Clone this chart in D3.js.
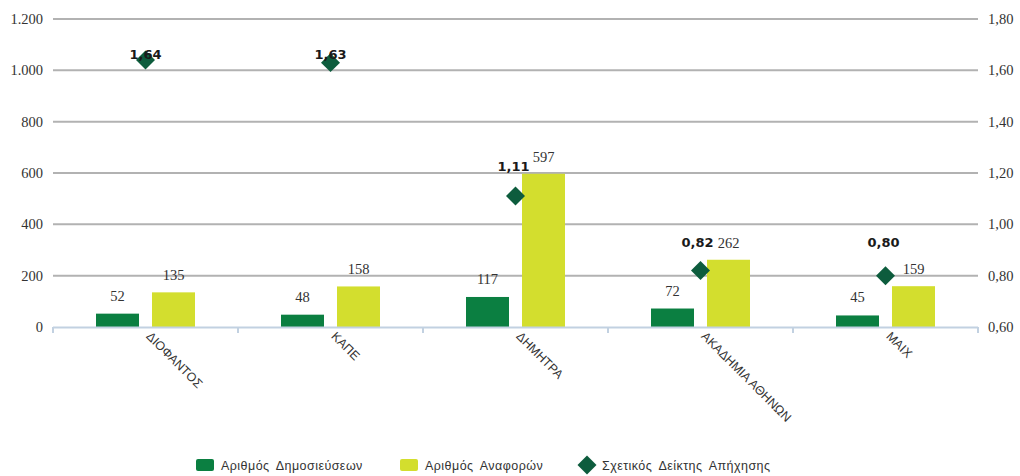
<!DOCTYPE html>
<html><head><meta charset="utf-8">
<script src="https://cdn.jsdelivr.net/npm/d3@7"></script>
<style>
body{margin:0;background:#fff;}
svg{display:block;}
</style></head>
<body><svg id="chart" width="1020" height="476"></svg>
<script>
const categories = ["ΔΙΟΦΑΝΤΟΣ","ΚΑΠΕ","ΔΗΜΗΤΡΑ","ΑΚΑΔΗΜΙΑ ΑΘΗΝΩΝ","ΜΑΙΧ"];
const publications = [52,48,117,72,45];
const citations = [135,158,597,262,159];
const relIndex = [1.64,1.63,1.11,0.82,0.80];
const leftTicks = [0,200,400,600,800,1000,1200];
const rightTicks = [0.6,0.8,1.0,1.2,1.4,1.6,1.8];
const seriesNames = ["Αριθμός Δημοσιεύσεων","Αριθμός Αναφορών","Σχετικός Δείκτης Απήχησης"];

// label placement tweaks for the index labels (layout only)
const idxLabelDy = [-1,-4,-25,-24,-29];
const idxLabelDx = [0,0,-2,-3,-2];

const colors = {pub:"#0b7f41", cit:"#d3de2e", idx:"#0d5c3d"};
const svg = d3.select("#chart");
const m = {l:53, r:978, t:19, b:327};

const x = d3.scaleBand().domain(categories).range([m.l,m.r]).paddingInner(0).paddingOuter(0);
const yL = d3.scaleLinear().domain([0,1200]).range([m.b,m.t]);
const yR = d3.scaleLinear().domain([0.6,1.8]).range([m.b,m.t]);

const fmtL = d3.formatLocale({decimal:",",thousands:".",grouping:[3],currency:["","€"]});
const fL = fmtL.format(",d");
const fR = fmtL.format(".2f");

// gridlines
svg.append("g").selectAll("line").data(leftTicks.slice(1)).join("line")
  .attr("x1",m.l).attr("x2",m.r).attr("y1",d=>yL(d)).attr("y2",d=>yL(d))
  .attr("stroke","#b2b2b2").attr("stroke-width",2);

// left axis
const gL = svg.append("g").attr("transform",`translate(${m.l},0)`)
  .call(d3.axisLeft(yL).tickValues(leftTicks).tickFormat(fL).tickSize(0).tickPadding(10));
gL.select(".domain").remove();
gL.selectAll("text").attr("font-family","Liberation Serif, serif").attr("font-size","14.5px").attr("fill","#333");

// right axis
const gR = svg.append("g").attr("transform",`translate(${m.r},0)`)
  .call(d3.axisRight(yR).tickValues(rightTicks).tickFormat(fR).tickSize(0).tickPadding(10));
gR.select(".domain").remove();
gR.selectAll("text").attr("font-family","Liberation Serif, serif").attr("font-size","14.5px").attr("fill","#333");

// bars
const bw = 43, gap = 13;
const pubX = d => x(d) + x.bandwidth()/2 - gap/2 - bw;
const citX = d => x(d) + x.bandwidth()/2 + gap/2;
svg.append("g").selectAll("rect").data(categories).join("rect")
  .attr("x",d=>pubX(d)).attr("width",bw)
  .attr("y",(d,i)=>yL(publications[i])).attr("height",(d,i)=>yL(0)-yL(publications[i]))
  .attr("fill",colors.pub);
svg.append("g").selectAll("rect").data(categories).join("rect")
  .attr("x",d=>citX(d)).attr("width",bw)
  .attr("y",(d,i)=>yL(citations[i])).attr("height",(d,i)=>yL(0)-yL(citations[i]))
  .attr("fill",colors.cit);

// x axis line and ticks
const axisCol = "#c2d1e1";
svg.append("line").attr("x1",m.l).attr("x2",m.r).attr("y1",m.b+0.5).attr("y2",m.b+0.5)
  .attr("stroke",axisCol).attr("stroke-width",2);
const bounds = categories.map(c=>x(c)).concat([m.r]);
svg.append("g").selectAll("line").data(bounds).join("line")
  .attr("x1",d=>d).attr("x2",d=>d).attr("y1",m.b).attr("y2",m.b+6)
  .attr("stroke",axisCol).attr("stroke-width",2);

// bar value labels
const valFont = "Liberation Serif, serif";
svg.append("g").selectAll("text").data(categories).join("text")
  .attr("x",d=>pubX(d)+bw/2).attr("y",(d,i)=>yL(publications[i])-13)
  .attr("text-anchor","middle").attr("font-family",valFont).attr("font-size","14.5px").attr("fill","#333")
  .text((d,i)=>fL(publications[i]));
svg.append("g").selectAll("text").data(categories).join("text")
  .attr("x",d=>citX(d)+bw/2).attr("y",(d,i)=>yL(citations[i])-12)
  .attr("text-anchor","middle").attr("font-family",valFont).attr("font-size","14.5px").attr("fill","#333")
  .text((d,i)=>fL(citations[i]));

// diamonds
const cx = d => x(d) + x.bandwidth()/2;
const sym = d3.symbol().type(d3.symbolSquare).size(180);
svg.append("g").selectAll("path").data(categories).join("path")
  .attr("d",sym)
  .attr("transform",(d,i)=>`translate(${cx(d)},${yR(relIndex[i])}) rotate(45)`)
  .attr("fill",colors.idx);
svg.append("g").selectAll("text").data(categories).join("text")
  .attr("x",(d,i)=>cx(d)+idxLabelDx[i]).attr("y",(d,i)=>yR(relIndex[i])+idxLabelDy[i])
  .attr("text-anchor","middle").attr("font-family","DejaVu Sans, sans-serif").attr("font-weight","bold")
  .attr("font-size","13px").attr("fill","#1a1a1a")
  .text((d,i)=>fR(relIndex[i]));

// category labels
svg.append("g").selectAll("text").data(categories).join("text")
  .attr("transform",d=>`translate(${cx(d)},${m.b+10}) rotate(45)`)
  .attr("font-family","Liberation Sans, Arial, sans-serif").attr("font-size","12.5px").attr("fill","#333")
  .text(d=>d);

// legend
const leg = svg.append("g").attr("font-family","Liberation Sans, Arial, sans-serif").attr("font-size","12.5px").attr("fill","#333");
const legX = [196,400,577];
seriesNames.forEach((n,i)=>{
  const g = leg.append("g").attr("transform",`translate(${legX[i]},465)`);
  if(i<2){
    g.append("rect").attr("x",0).attr("y",-6).attr("width",18).attr("height",12).attr("rx",2)
      .attr("fill",i===0?colors.pub:colors.cit);
  } else {
    g.append("path").attr("d",d3.symbol().type(d3.symbolSquare).size(180))
      .attr("transform","translate(10,0) rotate(45)").attr("fill",colors.idx);
  }
  g.append("text").attr("x",25).attr("y",4.5).attr("letter-spacing","0.45px").attr("word-spacing","3px").text(n);
});
</script></body></html>
